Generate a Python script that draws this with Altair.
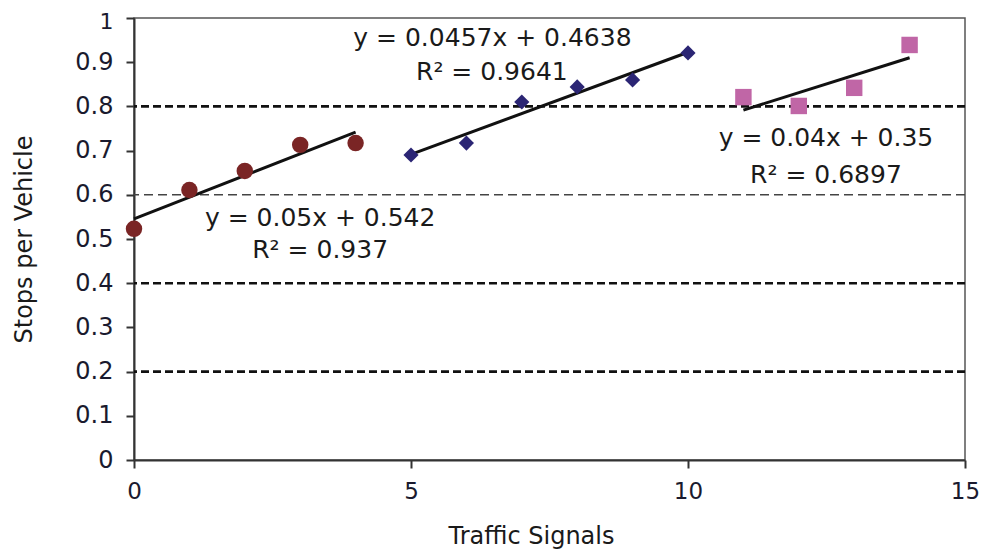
import altair as alt
import pandas as pd

# --- data ---
x_circle = [0, 1, 2, 3, 4]
y_circle = [0.523, 0.611, 0.654, 0.713, 0.717]
x_diamond = [5, 6, 7, 8, 9, 10]
y_diamond = [0.690, 0.717, 0.810, 0.844, 0.860, 0.921]
x_square = [11, 12, 13, 14]
y_square = [0.821, 0.801, 0.842, 0.939]

grid_thick = [0.2, 0.4, 0.8]
grid_thin = [0.6]

x_ticks = [0, 5, 10, 15]
y_ticks = [0, 0.1, 0.2, 0.3, 0.4, 0.5, 0.6, 0.7, 0.8, 0.9, 1.0]

ann_text = ["y = 0.05x + 0.542", "R² = 0.937",
            "y = 0.0457x + 0.4638", "R² = 0.9641",
            "y = 0.04x + 0.35", "R² = 0.6897"]
ann_x = [3.36, 3.36, 6.47, 6.46, 12.49, 12.49]
ann_y = [0.548, 0.475, 0.955, 0.878, 0.728, 0.645]

FONT = "DejaVu Sans"

df = pd.DataFrame({
    "x": x_circle + x_diamond + x_square,
    "y": y_circle + y_diamond + y_square,
    "series": ["a"] * len(x_circle) + ["b"] * len(x_diamond) + ["c"] * len(x_square),
})
grid_df = pd.DataFrame({"g": grid_thick})
grid_thin_df = pd.DataFrame({"g": grid_thin})
ann_df = pd.DataFrame({"t": ann_text, "x": ann_x, "y": ann_y})

xscale = alt.Scale(domain=[0, 15], nice=False, zero=False)
yscale = alt.Scale(domain=[0, 1], nice=False)

xenc = alt.X("x:Q", scale=xscale, axis=alt.Axis(
    values=x_ticks, format="d", title="Traffic Signals", grid=False,
    labelFlush=False, labelPadding=12, labelFontSize=23,
    titleX=397, titleY=83, titleAlign="center", titleBaseline="alphabetic"))
yenc = alt.Y("y:Q", scale=yscale, axis=alt.Axis(
    values=y_ticks, format=".1~f", title="Stops per Vehicle", grid=False,
    labelFlush=False,
    labelFontSize={"condition": {"test": "datum.value === 1", "value": 22}, "value": 24},
    labelOffset={"condition": {"test": "datum.value === 1", "value": 3}, "value": 0},
    titleX=-110, titleY=221, titleAngle=-90, titleAlign="center",
    titleBaseline="middle", labelPadding=13))

gridlines = alt.Chart(grid_df).mark_rule(
    color="#111", strokeWidth=2.6, strokeDash=[8, 4]
).encode(y=alt.Y("g:Q", scale=yscale))
gridlines_thin = alt.Chart(grid_thin_df).mark_rule(
    color="#444", strokeWidth=1.5, strokeDash=[9, 5]
).encode(y=alt.Y("g:Q", scale=yscale))

reg = alt.Chart(df).transform_regression(
    "x", "y", groupby=["series"]
).mark_line(color="#111", strokeWidth=3).encode(
    x=alt.X("x:Q", scale=xscale), y=alt.Y("y:Q", scale=yscale), detail="series:N")

circles = alt.Chart(df).transform_filter("datum.series == 'a'").mark_point(
    shape="circle", filled=True, size=270, color="#7a2525", opacity=1
).encode(x=xenc, y=yenc)
diamonds = alt.Chart(df).transform_filter("datum.series == 'b'").mark_point(
    shape="diamond", filled=True, size=230, color="#2b2574", opacity=1
).encode(x=alt.X("x:Q", scale=xscale), y=alt.Y("y:Q", scale=yscale))
squares = alt.Chart(df).transform_filter("datum.series == 'c'").mark_point(
    shape="square", filled=True, size=270, color="#c066a6", opacity=1
).encode(x=alt.X("x:Q", scale=xscale), y=alt.Y("y:Q", scale=yscale))

labels = alt.Chart(ann_df).mark_text(
    font=FONT, fontSize=25, color="#1a1a1a", align="center", baseline="middle"
).encode(x=alt.X("x:Q", scale=xscale), y=alt.Y("y:Q", scale=yscale), text="t:N")

chart = alt.layer(
    gridlines, gridlines_thin, reg, circles, diamonds, squares, labels
).properties(
    width=831, height=442,
    autosize=alt.AutoSizeParams(type="none"),
    padding={"left": 126, "top": 10, "right": 15, "bottom": 89},
).configure_view(
    stroke="#555", strokeWidth=1.5
).configure_axis(
    domainColor="#333", domainWidth=2, tickColor="#333", tickWidth=2, tickSize=8,
    labelFont=FONT, labelColor="#1a1a2e",
    titleFont=FONT, titleFontSize=24, titleColor="#1a1a1a", titleFontWeight="normal",
)

chart.save("out.html", embed_options={"renderer": "svg", "actions": False})
